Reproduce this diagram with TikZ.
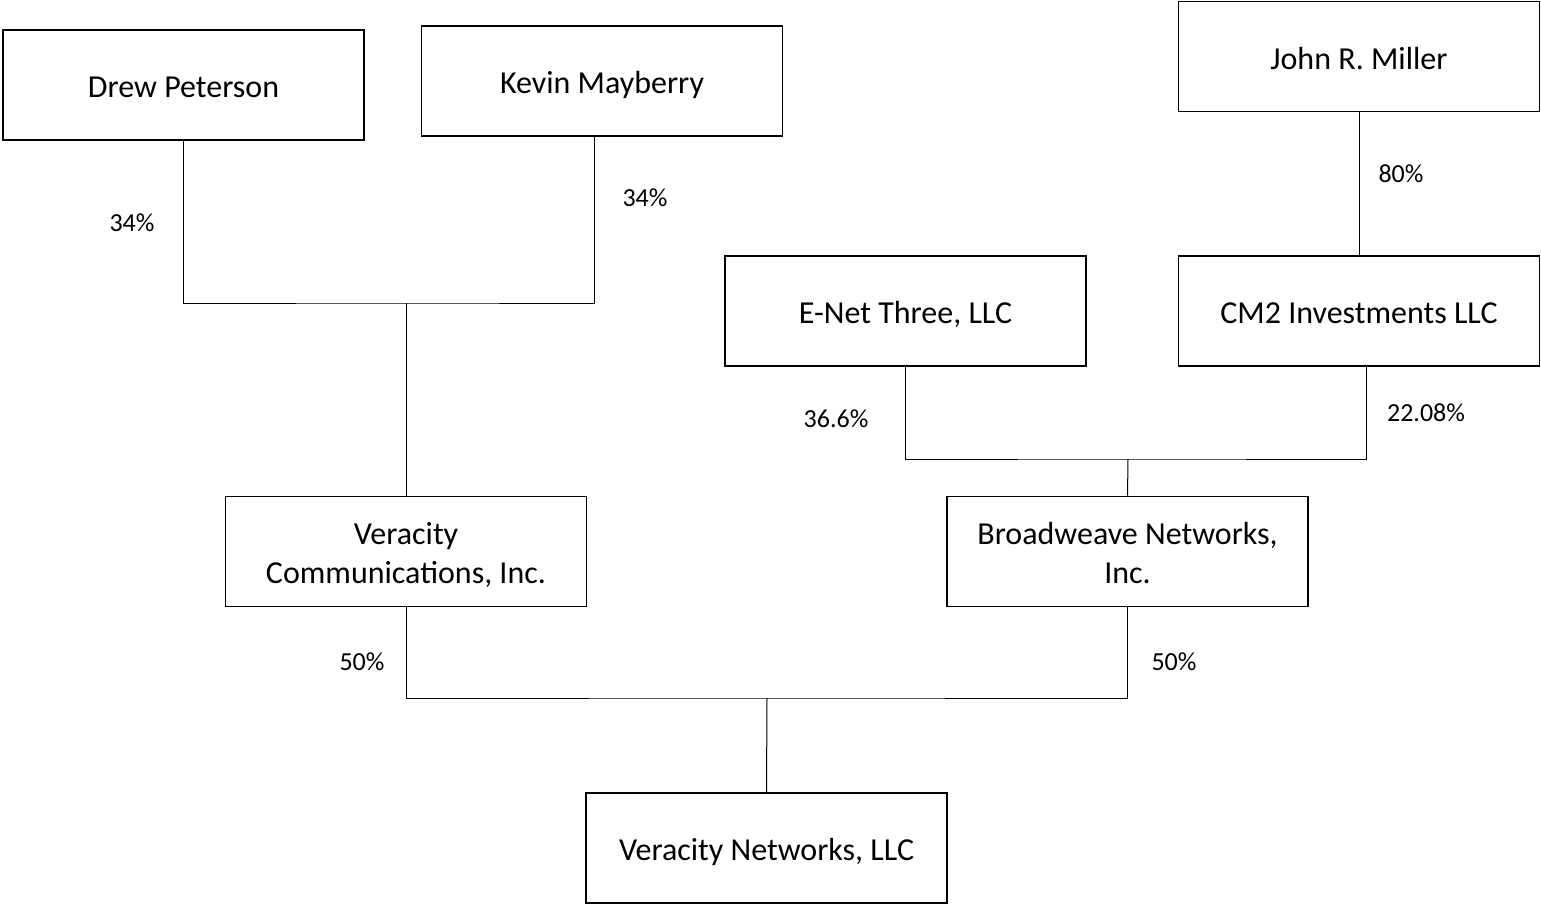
\documentclass[tikz,border=0pt]{standalone}
\usepackage{fontspec}
\setmainfont{Carlito}
\newcommand\bxa{\rule{0pt}{17.0pt}}
\newcommand\bxb{\rule[-4.2pt]{0pt}{0pt}}
\begin{document}
\begin{tikzpicture}[x=0.5pt,y=-0.5pt,
  ent/.style={draw=black,line width=0.9pt,minimum width=180.5pt,minimum height=55pt,inner sep=0pt,align=center,font=\fontsize{16}{19.5}\selectfont},
  pct/.style={font=\fontsize{13}{15}\selectfont,inner sep=0pt},
  link/.style={draw=black,line width=0.5pt}]
\useasboundingbox (0,0) rectangle (1541,904);
\node[ent] (dp) at (183.5,85) {\bxa Drew Peterson\bxb};
\node[ent] (km) at (602,81) {\bxa Kevin Mayberry\bxb};
\node[ent] (jm) at (1359,56.5) {\bxa John R. Miller\bxb};
\node[ent] (en) at (905.5,311) {\bxa E-Net Three, LLC\bxb};
\node[ent] (cm) at (1359,311) {\bxa CM2 Investments LLC\bxb};
\node[ent] (vc) at (406,551.5) {\bxa Veracity\\Communications, Inc.\bxb};
\node[ent] (bw) at (1127.5,551.5) {\bxa Broadweave Networks,\\Inc.\bxb};
\node[ent] (vn) at (766.5,848) {\bxa Veracity Networks, LLC\bxb};
\coordinate (j1) at (406,303);
\coordinate (j2) at (1128,459);
\coordinate (j3) at (767,698);
\draw[link] (dp.south) |- (j1) -| ([xshift=-4pt]km.south);
\draw[link] (j1) -- (vc.north);
\draw[link] (jm.south) -- (cm.north);
\draw[link] (en.south) |- (j2) -| ([xshift=3.5pt]cm.south);
\draw[link] (j2) -- (bw.north);
\draw[link] (vc.south) |- (j3) -| (bw.south);
\draw[link] (j3) -- (vn.north);
\node[pct] (p1) at (132,223) {34\%};
\node[pct] (p2) at (645,198) {34\%};
\node[pct] (p3) at (1401,174) {80\%};
\node[pct] (p4) at (836,419) {36.6\%};
\node[pct] (p5) at (1426,413) {22.08\%};
\node[pct] (p6) at (362,662) {50\%};
\node[pct] (p7) at (1174,662) {50\%};
\end{tikzpicture}
\end{document}
